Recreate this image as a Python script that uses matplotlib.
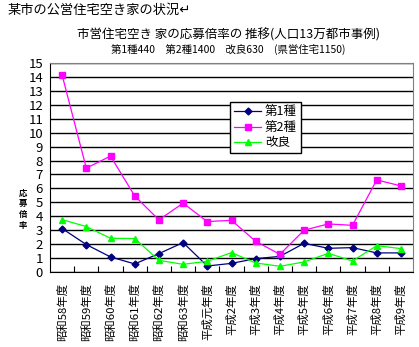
import matplotlib.pyplot as plt

plt.rcParams['font.family'] = ['Noto Sans CJK JP', 'DejaVu Sans']

years = ["昭和58年度", "昭和59年度", "昭和60年度", "昭和61年度", "昭和62年度",
         "昭和63年度", "平成元年度", "平成2年度", "平成3年度", "平成4年度",
         "平成5年度", "平成6年度", "平成7年度", "平成8年度", "平成9年度"]
type1 = [3.12, 1.97, 1.08, 0.58, 1.32, 2.11, 0.43, 0.62, 0.96, 1.12,
         2.06, 1.70, 1.75, 1.37, 1.37]
type2 = [14.14, 7.45, 8.32, 5.46, 3.74, 4.94, 3.62, 3.71, 2.2, 1.27,
         3.0, 3.45, 3.35, 6.61, 6.18]
kairyo = [3.76, 3.26, 2.42, 2.40, 0.84, 0.55, 0.77, 1.39, 0.65, 0.41,
          0.72, 1.34, 0.79, 1.89, 1.68]

fig = plt.figure(figsize=(4.19, 3.47), dpi=100)
ax = fig.add_axes([50 / 419, 75 / 347, 363 / 419, 209 / 347])

x = range(len(years))
ax.plot(x, type1, color='#000080', lw=0.9, marker='D', ms=3.5, label='第1種')
ax.plot(x, type2, color='#FF00FF', lw=0.9, marker='s', ms=4.5, label='第2種')
ax.plot(x, kairyo, color='#00FF00', lw=0.9, marker='^', ms=5, label='改良')

ax.set_ylim(0, 15)
ax.set_xlim(-0.5, len(years) - 0.5)
ax.set_yticks(range(16))
ax.yaxis.grid(True, color='black', lw=1)
ax.set_axisbelow(True)
ax.tick_params(axis='y', labelsize=9.5, length=0, pad=5)

# category boundaries get the tick marks, centres get the labels
ax.set_xticks([i - 0.5 for i in range(1, len(years))], minor=False)
ax.set_xticklabels([])
ax.set_xticks(list(x), minor=True)
ax.set_xticklabels(years, minor=True, rotation=90, fontsize=8.2)
ax.tick_params(axis='x', which='major', direction='in', length=4, color='black')
ax.tick_params(axis='x', which='minor', length=0, pad=8)

for s in ['top', 'right']:
    ax.spines[s].set_color('#808080')
for s in ['left', 'bottom']:
    ax.spines[s].set_color('black')

leg = ax.legend(loc='upper left', bbox_to_anchor=(180 / 363, 0.815), fontsize=9,
                frameon=True, fancybox=False, edgecolor='black', borderaxespad=0,
                borderpad=0.3, labelspacing=0.2, handlelength=2.2,
                handletextpad=0.3)
leg.get_frame().set_linewidth(1.0)
leg.get_frame().set_alpha(1)

fig.text(23 / 419, 1 - 209 / 347, "応\n募\n倍\n率", fontsize=6, fontweight='bold',
         ha='center', va='center', linespacing=1.25)

fig.text(8 / 419, 1 - 10 / 347, "某市の公営住宅空き家の状況↵", fontsize=9.5,
         ha='left', va='center')
fig.text(228 / 419, 1 - 35 / 347, "市営住宅空き 家の応募倍率の 推移(人口13万都市事例)",
         fontsize=9, ha='center', va='center')
fig.text(228 / 419, 1 - 49 / 347, "第1種440　第2種1400　改良630　(県営住宅1150)",
         fontsize=7.5, ha='center', va='center')

fig.savefig('out.png', dpi=100)
